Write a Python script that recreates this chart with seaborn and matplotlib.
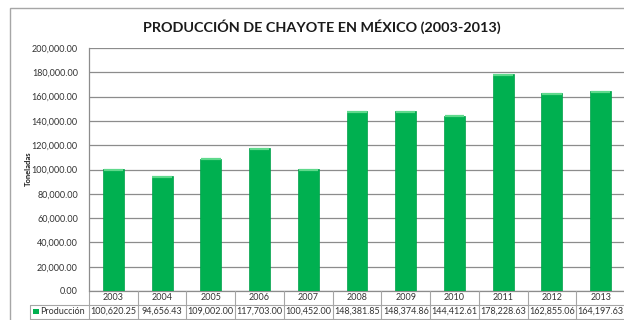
import matplotlib
matplotlib.use("Agg")
import matplotlib.pyplot as plt
import matplotlib.transforms as mtransforms
from matplotlib.patches import Rectangle
import seaborn as sns
import pandas as pd

years = ["2003", "2004", "2005", "2006", "2007", "2008", "2009", "2010", "2011", "2012", "2013"]
produccion = [100620.25, 94656.43, 109002.00, 117703.00, 100452.00, 148381.85,
              148374.86, 144412.61, 178228.63, 162855.06, 164197.63]
series_name = "Producción"
title = "PRODUCCIÓN DE CHAYOTE EN MÉXICO (2003-2013)"
ylabel = "Toneladas"
yticks = [0, 20000, 40000, 60000, 80000, 100000, 120000, 140000, 160000, 180000, 200000]

sns.set_theme(style="white")
plt.rcParams["font.family"] = ["Lato", "DejaVu Sans"]

W, H = 624, 320
fig = plt.figure(figsize=(W / 100, H / 100), dpi=100)
fig.patch.set_facecolor("white")

# chart-area frame
fig.add_artist(Rectangle((10 / W, -0.05), 1.0, (H - 8) / H + 0.05, transform=fig.transFigure,
                         fill=False, edgecolor="#a6a6a6", linewidth=1.0))

left, right, top, bottom = 89, 625, 48, 291
ax = fig.add_axes([left / W, 1 - bottom / H, (right - left) / W, (bottom - top) / H])

df = pd.DataFrame({"year": years, "value": produccion})
GREEN = "#00b050"
sns.barplot(data=df, x="year", y="value", ax=ax, color=GREEN, width=0.43,
            saturation=1, edgecolor="#00a049", linewidth=0.5, zorder=3)

# light bevel along the top of each bar
for i, v in enumerate(produccion):
    ax.hlines(v - 700, i - 0.2, i + 0.2, color="#5fd98c", linewidth=1.6, zorder=4)

ax.set_xlim(-0.5, len(years) - 0.5)
ax.set_ylim(0, 200000)
ax.set_yticks(yticks)
ax.set_yticklabels([f"{t:,.2f}" for t in yticks], fontsize=6.5, color="#333333")
ax.tick_params(axis="y", length=0, pad=8)
ax.set_xticks([])
ax.set_xlabel("")
ax.set_ylabel("")
ax.grid(axis="y", color="#8c8c8c", linewidth=0.9, zorder=0)
ax.set_axisbelow(True)
for s in ["top", "right", "bottom"]:
    ax.spines[s].set_visible(False)
ax.spines["left"].set_color("#8c8c8c")
ax.spines["left"].set_linewidth(0.9)

fig.text(322 / W, 1 - 27 / H, title, ha="center", va="center",
         fontsize=10.4, fontweight="bold", color="#1a1a1a")
fig.text(28 / W, 1 - 169 / H, ylabel, ha="center", va="center", rotation=90,
         fontsize=5.5, fontweight="bold", color="#1a1a1a")

# data table under the axis
trans = mtransforms.blended_transform_factory(ax.transData, ax.transAxes)
ah = bottom - top
r1 = -13.5 / ah
r2 = -27.5 / ah
line_kw = dict(color="#a6a6a6", linewidth=0.8, clip_on=False, transform=trans)
n = len(years)
ax.plot([-0.5, n - 0.5], [0, 0], color="#8c8c8c", linewidth=0.9, clip_on=False, transform=trans)
for k in range(n + 1):
    ax.plot([k - 0.5, k - 0.5], [0, r2 - 0.05], **line_kw)
ax.plot([-0.5, n - 0.5], [r1, r1], **line_kw)
ax.plot([-0.5, n - 0.5], [r2, r2], **line_kw)

label_left = (30 - left) / (right - left)
ax.plot([label_left, 0], [r1, r1], color="#a6a6a6", linewidth=0.8, clip_on=False,
        transform=ax.transAxes)
ax.plot([label_left, 0], [r2, r2], color="#a6a6a6", linewidth=0.8, clip_on=False,
        transform=ax.transAxes)
ax.plot([label_left, label_left], [r1, r2 - 0.05], color="#a6a6a6", linewidth=0.8,
        clip_on=False, transform=ax.transAxes)

for i, (y, v) in enumerate(zip(years, produccion)):
    ax.text(i, r1 / 2, y, ha="center", va="center", fontsize=6.5, color="#333333",
            transform=trans, clip_on=False)
    ax.text(i, (r1 + r2) / 2, f"{v:,.2f}", ha="center", va="center", fontsize=6.5,
            color="#333333", transform=trans, clip_on=False)

ax.add_patch(Rectangle(((33 - left) / (right - left), (r1 + r2) / 2 - 2.6 / ah),
                       5.5 / (right - left), 5.5 / ah, transform=ax.transAxes,
                       facecolor=GREEN, edgecolor="none", clip_on=False))
ax.text((40 - left) / (right - left), (r1 + r2) / 2, series_name, ha="left", va="center",
        fontsize=6.5, color="#333333", transform=ax.transAxes, clip_on=False)

fig.savefig("out.png", dpi=100, facecolor="white")
